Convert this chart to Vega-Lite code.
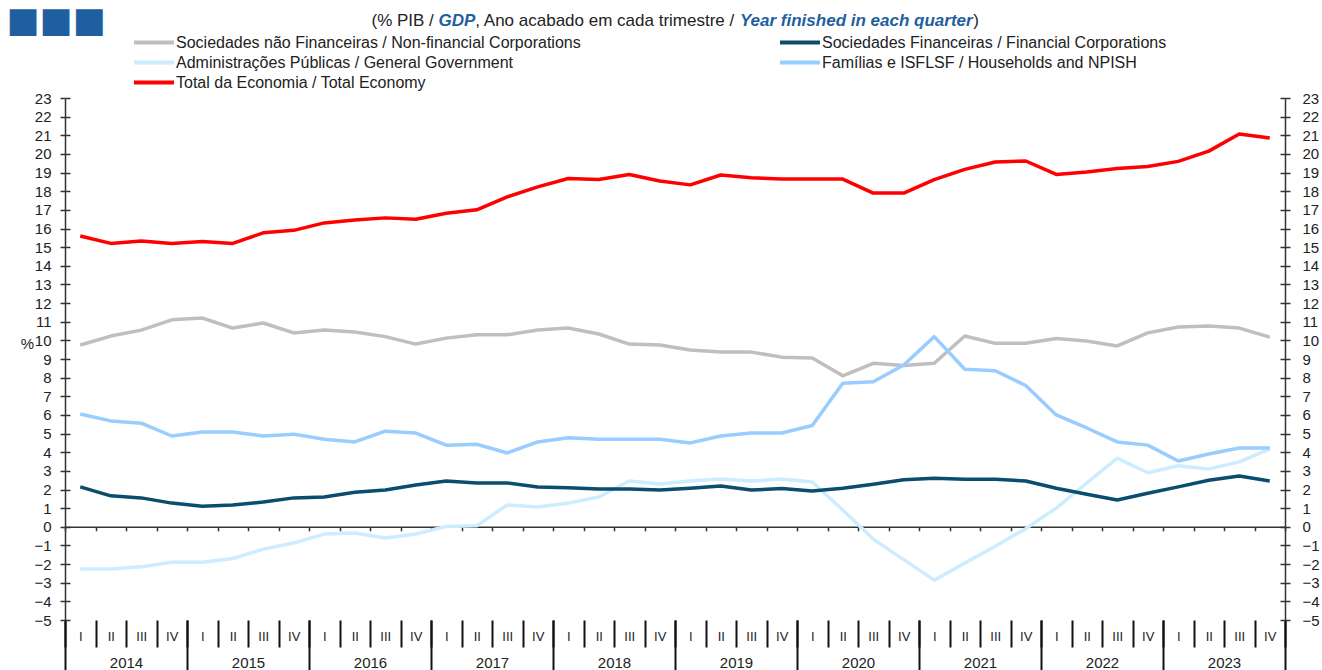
{
"$schema": "https://vega.github.io/schema/vega-lite/v6.json",
"autosize": {"type": "none"},
"padding": {"left": 65, "top": 98, "right": 37, "bottom": 50},
"width": 1220,
"height": 522,
"background": "white",
"config": {"view": {"stroke": null}, "font": "Liberation Sans"},
"data": {"values": [
{"series":"Sociedades não Financeiras / Non-financial Corporations","period":"2014 I","year":2014,"value":9.75},
{"series":"Sociedades não Financeiras / Non-financial Corporations","period":"2014 II","year":2014,"value":10.23},
{"series":"Sociedades não Financeiras / Non-financial Corporations","period":"2014 III","year":2014,"value":10.55},
{"series":"Sociedades não Financeiras / Non-financial Corporations","period":"2014 IV","year":2014,"value":11.1},
{"series":"Sociedades não Financeiras / Non-financial Corporations","period":"2015 I","year":2015,"value":11.2},
{"series":"Sociedades não Financeiras / Non-financial Corporations","period":"2015 II","year":2015,"value":10.66},
{"series":"Sociedades não Financeiras / Non-financial Corporations","period":"2015 III","year":2015,"value":10.93},
{"series":"Sociedades não Financeiras / Non-financial Corporations","period":"2015 IV","year":2015,"value":10.4},
{"series":"Sociedades não Financeiras / Non-financial Corporations","period":"2016 I","year":2016,"value":10.55},
{"series":"Sociedades não Financeiras / Non-financial Corporations","period":"2016 II","year":2016,"value":10.45},
{"series":"Sociedades não Financeiras / Non-financial Corporations","period":"2016 III","year":2016,"value":10.2},
{"series":"Sociedades não Financeiras / Non-financial Corporations","period":"2016 IV","year":2016,"value":9.8},
{"series":"Sociedades não Financeiras / Non-financial Corporations","period":"2017 I","year":2017,"value":10.12},
{"series":"Sociedades não Financeiras / Non-financial Corporations","period":"2017 II","year":2017,"value":10.3},
{"series":"Sociedades não Financeiras / Non-financial Corporations","period":"2017 III","year":2017,"value":10.3},
{"series":"Sociedades não Financeiras / Non-financial Corporations","period":"2017 IV","year":2017,"value":10.55},
{"series":"Sociedades não Financeiras / Non-financial Corporations","period":"2018 I","year":2018,"value":10.66},
{"series":"Sociedades não Financeiras / Non-financial Corporations","period":"2018 II","year":2018,"value":10.34},
{"series":"Sociedades não Financeiras / Non-financial Corporations","period":"2018 III","year":2018,"value":9.8},
{"series":"Sociedades não Financeiras / Non-financial Corporations","period":"2018 IV","year":2018,"value":9.75},
{"series":"Sociedades não Financeiras / Non-financial Corporations","period":"2019 I","year":2019,"value":9.48},
{"series":"Sociedades não Financeiras / Non-financial Corporations","period":"2019 II","year":2019,"value":9.37},
{"series":"Sociedades não Financeiras / Non-financial Corporations","period":"2019 III","year":2019,"value":9.37},
{"series":"Sociedades não Financeiras / Non-financial Corporations","period":"2019 IV","year":2019,"value":9.1},
{"series":"Sociedades não Financeiras / Non-financial Corporations","period":"2020 I","year":2020,"value":9.05},
{"series":"Sociedades não Financeiras / Non-financial Corporations","period":"2020 II","year":2020,"value":8.1},
{"series":"Sociedades não Financeiras / Non-financial Corporations","period":"2020 III","year":2020,"value":8.77},
{"series":"Sociedades não Financeiras / Non-financial Corporations","period":"2020 IV","year":2020,"value":8.65},
{"series":"Sociedades não Financeiras / Non-financial Corporations","period":"2021 I","year":2021,"value":8.77},
{"series":"Sociedades não Financeiras / Non-financial Corporations","period":"2021 II","year":2021,"value":10.23},
{"series":"Sociedades não Financeiras / Non-financial Corporations","period":"2021 III","year":2021,"value":9.84},
{"series":"Sociedades não Financeiras / Non-financial Corporations","period":"2021 IV","year":2021,"value":9.84},
{"series":"Sociedades não Financeiras / Non-financial Corporations","period":"2022 I","year":2022,"value":10.1},
{"series":"Sociedades não Financeiras / Non-financial Corporations","period":"2022 II","year":2022,"value":9.97},
{"series":"Sociedades não Financeiras / Non-financial Corporations","period":"2022 III","year":2022,"value":9.7},
{"series":"Sociedades não Financeiras / Non-financial Corporations","period":"2022 IV","year":2022,"value":10.4},
{"series":"Sociedades não Financeiras / Non-financial Corporations","period":"2023 I","year":2023,"value":10.72},
{"series":"Sociedades não Financeiras / Non-financial Corporations","period":"2023 II","year":2023,"value":10.77},
{"series":"Sociedades não Financeiras / Non-financial Corporations","period":"2023 III","year":2023,"value":10.66},
{"series":"Sociedades não Financeiras / Non-financial Corporations","period":"2023 IV","year":2023,"value":10.17},
{"series":"Administrações Públicas / General Government","period":"2014 I","year":2014,"value":-2.27},
{"series":"Administrações Públicas / General Government","period":"2014 II","year":2014,"value":-2.27},
{"series":"Administrações Públicas / General Government","period":"2014 III","year":2014,"value":-2.15},
{"series":"Administrações Públicas / General Government","period":"2014 IV","year":2014,"value":-1.9},
{"series":"Administrações Públicas / General Government","period":"2015 I","year":2015,"value":-1.9},
{"series":"Administrações Públicas / General Government","period":"2015 II","year":2015,"value":-1.7},
{"series":"Administrações Públicas / General Government","period":"2015 III","year":2015,"value":-1.2},
{"series":"Administrações Públicas / General Government","period":"2015 IV","year":2015,"value":-0.87},
{"series":"Administrações Públicas / General Government","period":"2016 I","year":2016,"value":-0.39},
{"series":"Administrações Públicas / General Government","period":"2016 II","year":2016,"value":-0.33},
{"series":"Administrações Públicas / General Government","period":"2016 III","year":2016,"value":-0.6},
{"series":"Administrações Públicas / General Government","period":"2016 IV","year":2016,"value":-0.39},
{"series":"Administrações Públicas / General Government","period":"2017 I","year":2017,"value":0.02},
{"series":"Administrações Públicas / General Government","period":"2017 II","year":2017,"value":0.05},
{"series":"Administrações Públicas / General Government","period":"2017 III","year":2017,"value":1.17},
{"series":"Administrações Públicas / General Government","period":"2017 IV","year":2017,"value":1.06},
{"series":"Administrações Públicas / General Government","period":"2018 I","year":2018,"value":1.27},
{"series":"Administrações Públicas / General Government","period":"2018 II","year":2018,"value":1.6},
{"series":"Administrações Públicas / General Government","period":"2018 III","year":2018,"value":2.46},
{"series":"Administrações Públicas / General Government","period":"2018 IV","year":2018,"value":2.3},
{"series":"Administrações Públicas / General Government","period":"2019 I","year":2019,"value":2.46},
{"series":"Administrações Públicas / General Government","period":"2019 II","year":2019,"value":2.56},
{"series":"Administrações Públicas / General Government","period":"2019 III","year":2019,"value":2.46},
{"series":"Administrações Públicas / General Government","period":"2019 IV","year":2019,"value":2.56},
{"series":"Administrações Públicas / General Government","period":"2020 I","year":2020,"value":2.4},
{"series":"Administrações Públicas / General Government","period":"2020 II","year":2020,"value":0.9},
{"series":"Administrações Públicas / General Government","period":"2020 III","year":2020,"value":-0.66},
{"series":"Administrações Públicas / General Government","period":"2020 IV","year":2020,"value":-1.76},
{"series":"Administrações Públicas / General Government","period":"2021 I","year":2021,"value":-2.86},
{"series":"Administrações Públicas / General Government","period":"2021 II","year":2021,"value":-1.95},
{"series":"Administrações Públicas / General Government","period":"2021 III","year":2021,"value":-1.04},
{"series":"Administrações Públicas / General Government","period":"2021 IV","year":2021,"value":-0.1},
{"series":"Administrações Públicas / General Government","period":"2022 I","year":2022,"value":1.0},
{"series":"Administrações Públicas / General Government","period":"2022 II","year":2022,"value":2.35},
{"series":"Administrações Públicas / General Government","period":"2022 III","year":2022,"value":3.68},
{"series":"Administrações Públicas / General Government","period":"2022 IV","year":2022,"value":2.9},
{"series":"Administrações Públicas / General Government","period":"2023 I","year":2023,"value":3.27},
{"series":"Administrações Públicas / General Government","period":"2023 II","year":2023,"value":3.1},
{"series":"Administrações Públicas / General Government","period":"2023 III","year":2023,"value":3.48},
{"series":"Administrações Públicas / General Government","period":"2023 IV","year":2023,"value":4.17},
{"series":"Sociedades Financeiras / Financial Corporations","period":"2014 I","year":2014,"value":2.14},
{"series":"Sociedades Financeiras / Financial Corporations","period":"2014 II","year":2014,"value":1.66},
{"series":"Sociedades Financeiras / Financial Corporations","period":"2014 III","year":2014,"value":1.55},
{"series":"Sociedades Financeiras / Financial Corporations","period":"2014 IV","year":2014,"value":1.27},
{"series":"Sociedades Financeiras / Financial Corporations","period":"2015 I","year":2015,"value":1.1},
{"series":"Sociedades Financeiras / Financial Corporations","period":"2015 II","year":2015,"value":1.17},
{"series":"Sociedades Financeiras / Financial Corporations","period":"2015 III","year":2015,"value":1.33},
{"series":"Sociedades Financeiras / Financial Corporations","period":"2015 IV","year":2015,"value":1.55},
{"series":"Sociedades Financeiras / Financial Corporations","period":"2016 I","year":2016,"value":1.6},
{"series":"Sociedades Financeiras / Financial Corporations","period":"2016 II","year":2016,"value":1.85},
{"series":"Sociedades Financeiras / Financial Corporations","period":"2016 III","year":2016,"value":1.97},
{"series":"Sociedades Financeiras / Financial Corporations","period":"2016 IV","year":2016,"value":2.24},
{"series":"Sociedades Financeiras / Financial Corporations","period":"2017 I","year":2017,"value":2.46},
{"series":"Sociedades Financeiras / Financial Corporations","period":"2017 II","year":2017,"value":2.35},
{"series":"Sociedades Financeiras / Financial Corporations","period":"2017 III","year":2017,"value":2.35},
{"series":"Sociedades Financeiras / Financial Corporations","period":"2017 IV","year":2017,"value":2.14},
{"series":"Sociedades Financeiras / Financial Corporations","period":"2018 I","year":2018,"value":2.09},
{"series":"Sociedades Financeiras / Financial Corporations","period":"2018 II","year":2018,"value":2.03},
{"series":"Sociedades Financeiras / Financial Corporations","period":"2018 III","year":2018,"value":2.03},
{"series":"Sociedades Financeiras / Financial Corporations","period":"2018 IV","year":2018,"value":1.97},
{"series":"Sociedades Financeiras / Financial Corporations","period":"2019 I","year":2019,"value":2.07},
{"series":"Sociedades Financeiras / Financial Corporations","period":"2019 II","year":2019,"value":2.19},
{"series":"Sociedades Financeiras / Financial Corporations","period":"2019 III","year":2019,"value":1.97},
{"series":"Sociedades Financeiras / Financial Corporations","period":"2019 IV","year":2019,"value":2.05},
{"series":"Sociedades Financeiras / Financial Corporations","period":"2020 I","year":2020,"value":1.92},
{"series":"Sociedades Financeiras / Financial Corporations","period":"2020 II","year":2020,"value":2.07},
{"series":"Sociedades Financeiras / Financial Corporations","period":"2020 III","year":2020,"value":2.28},
{"series":"Sociedades Financeiras / Financial Corporations","period":"2020 IV","year":2020,"value":2.52},
{"series":"Sociedades Financeiras / Financial Corporations","period":"2021 I","year":2021,"value":2.6},
{"series":"Sociedades Financeiras / Financial Corporations","period":"2021 II","year":2021,"value":2.55},
{"series":"Sociedades Financeiras / Financial Corporations","period":"2021 III","year":2021,"value":2.55},
{"series":"Sociedades Financeiras / Financial Corporations","period":"2021 IV","year":2021,"value":2.46},
{"series":"Sociedades Financeiras / Financial Corporations","period":"2022 I","year":2022,"value":2.07},
{"series":"Sociedades Financeiras / Financial Corporations","period":"2022 II","year":2022,"value":1.75},
{"series":"Sociedades Financeiras / Financial Corporations","period":"2022 III","year":2022,"value":1.44},
{"series":"Sociedades Financeiras / Financial Corporations","period":"2022 IV","year":2022,"value":1.8},
{"series":"Sociedades Financeiras / Financial Corporations","period":"2023 I","year":2023,"value":2.14},
{"series":"Sociedades Financeiras / Financial Corporations","period":"2023 II","year":2023,"value":2.5},
{"series":"Sociedades Financeiras / Financial Corporations","period":"2023 III","year":2023,"value":2.72},
{"series":"Sociedades Financeiras / Financial Corporations","period":"2023 IV","year":2023,"value":2.46},
{"series":"Famílias e ISFLSF / Households and NPISH","period":"2014 I","year":2014,"value":6.05},
{"series":"Famílias e ISFLSF / Households and NPISH","period":"2014 II","year":2014,"value":5.68},
{"series":"Famílias e ISFLSF / Households and NPISH","period":"2014 III","year":2014,"value":5.56},
{"series":"Famílias e ISFLSF / Households and NPISH","period":"2014 IV","year":2014,"value":4.87},
{"series":"Famílias e ISFLSF / Households and NPISH","period":"2015 I","year":2015,"value":5.08},
{"series":"Famílias e ISFLSF / Households and NPISH","period":"2015 II","year":2015,"value":5.08},
{"series":"Famílias e ISFLSF / Households and NPISH","period":"2015 III","year":2015,"value":4.87},
{"series":"Famílias e ISFLSF / Households and NPISH","period":"2015 IV","year":2015,"value":4.97},
{"series":"Famílias e ISFLSF / Households and NPISH","period":"2016 I","year":2016,"value":4.7},
{"series":"Famílias e ISFLSF / Households and NPISH","period":"2016 II","year":2016,"value":4.55},
{"series":"Famílias e ISFLSF / Households and NPISH","period":"2016 III","year":2016,"value":5.13},
{"series":"Famílias e ISFLSF / Households and NPISH","period":"2016 IV","year":2016,"value":5.03},
{"series":"Famílias e ISFLSF / Households and NPISH","period":"2017 I","year":2017,"value":4.38},
{"series":"Famílias e ISFLSF / Households and NPISH","period":"2017 II","year":2017,"value":4.43},
{"series":"Famílias e ISFLSF / Households and NPISH","period":"2017 III","year":2017,"value":3.96},
{"series":"Famílias e ISFLSF / Households and NPISH","period":"2017 IV","year":2017,"value":4.55},
{"series":"Famílias e ISFLSF / Households and NPISH","period":"2018 I","year":2018,"value":4.77},
{"series":"Famílias e ISFLSF / Households and NPISH","period":"2018 II","year":2018,"value":4.7},
{"series":"Famílias e ISFLSF / Households and NPISH","period":"2018 III","year":2018,"value":4.7},
{"series":"Famílias e ISFLSF / Households and NPISH","period":"2018 IV","year":2018,"value":4.7},
{"series":"Famílias e ISFLSF / Households and NPISH","period":"2019 I","year":2019,"value":4.5},
{"series":"Famílias e ISFLSF / Households and NPISH","period":"2019 II","year":2019,"value":4.87},
{"series":"Famílias e ISFLSF / Households and NPISH","period":"2019 III","year":2019,"value":5.03},
{"series":"Famílias e ISFLSF / Households and NPISH","period":"2019 IV","year":2019,"value":5.03},
{"series":"Famílias e ISFLSF / Households and NPISH","period":"2020 I","year":2020,"value":5.43},
{"series":"Famílias e ISFLSF / Households and NPISH","period":"2020 II","year":2020,"value":7.7},
{"series":"Famílias e ISFLSF / Households and NPISH","period":"2020 III","year":2020,"value":7.78},
{"series":"Famílias e ISFLSF / Households and NPISH","period":"2020 IV","year":2020,"value":8.68},
{"series":"Famílias e ISFLSF / Households and NPISH","period":"2021 I","year":2021,"value":10.2},
{"series":"Famílias e ISFLSF / Households and NPISH","period":"2021 II","year":2021,"value":8.45},
{"series":"Famílias e ISFLSF / Households and NPISH","period":"2021 III","year":2021,"value":8.37},
{"series":"Famílias e ISFLSF / Households and NPISH","period":"2021 IV","year":2021,"value":7.58},
{"series":"Famílias e ISFLSF / Households and NPISH","period":"2022 I","year":2022,"value":6.0},
{"series":"Famílias e ISFLSF / Households and NPISH","period":"2022 II","year":2022,"value":5.3},
{"series":"Famílias e ISFLSF / Households and NPISH","period":"2022 III","year":2022,"value":4.55},
{"series":"Famílias e ISFLSF / Households and NPISH","period":"2022 IV","year":2022,"value":4.38},
{"series":"Famílias e ISFLSF / Households and NPISH","period":"2023 I","year":2023,"value":3.53},
{"series":"Famílias e ISFLSF / Households and NPISH","period":"2023 II","year":2023,"value":3.9},
{"series":"Famílias e ISFLSF / Households and NPISH","period":"2023 III","year":2023,"value":4.23},
{"series":"Famílias e ISFLSF / Households and NPISH","period":"2023 IV","year":2023,"value":4.23},
{"series":"Total da Economia / Total Economy","period":"2014 I","year":2014,"value":15.6},
{"series":"Total da Economia / Total Economy","period":"2014 II","year":2014,"value":15.2},
{"series":"Total da Economia / Total Economy","period":"2014 III","year":2014,"value":15.33},
{"series":"Total da Economia / Total Economy","period":"2014 IV","year":2014,"value":15.2},
{"series":"Total da Economia / Total Economy","period":"2015 I","year":2015,"value":15.3},
{"series":"Total da Economia / Total Economy","period":"2015 II","year":2015,"value":15.2},
{"series":"Total da Economia / Total Economy","period":"2015 III","year":2015,"value":15.77},
{"series":"Total da Economia / Total Economy","period":"2015 IV","year":2015,"value":15.9},
{"series":"Total da Economia / Total Economy","period":"2016 I","year":2016,"value":16.3},
{"series":"Total da Economia / Total Economy","period":"2016 II","year":2016,"value":16.45},
{"series":"Total da Economia / Total Economy","period":"2016 III","year":2016,"value":16.57},
{"series":"Total da Economia / Total Economy","period":"2016 IV","year":2016,"value":16.5},
{"series":"Total da Economia / Total Economy","period":"2017 I","year":2017,"value":16.82},
{"series":"Total da Economia / Total Economy","period":"2017 II","year":2017,"value":17.0},
{"series":"Total da Economia / Total Economy","period":"2017 III","year":2017,"value":17.7},
{"series":"Total da Economia / Total Economy","period":"2017 IV","year":2017,"value":18.23},
{"series":"Total da Economia / Total Economy","period":"2018 I","year":2018,"value":18.68},
{"series":"Total da Economia / Total Economy","period":"2018 II","year":2018,"value":18.63},
{"series":"Total da Economia / Total Economy","period":"2018 III","year":2018,"value":18.9},
{"series":"Total da Economia / Total Economy","period":"2018 IV","year":2018,"value":18.55},
{"series":"Total da Economia / Total Economy","period":"2019 I","year":2019,"value":18.34},
{"series":"Total da Economia / Total Economy","period":"2019 II","year":2019,"value":18.87},
{"series":"Total da Economia / Total Economy","period":"2019 III","year":2019,"value":18.72},
{"series":"Total da Economia / Total Economy","period":"2019 IV","year":2019,"value":18.65},
{"series":"Total da Economia / Total Economy","period":"2020 I","year":2020,"value":18.65},
{"series":"Total da Economia / Total Economy","period":"2020 II","year":2020,"value":18.65},
{"series":"Total da Economia / Total Economy","period":"2020 III","year":2020,"value":17.9},
{"series":"Total da Economia / Total Economy","period":"2020 IV","year":2020,"value":17.9},
{"series":"Total da Economia / Total Economy","period":"2021 I","year":2021,"value":18.62},
{"series":"Total da Economia / Total Economy","period":"2021 II","year":2021,"value":19.17},
{"series":"Total da Economia / Total Economy","period":"2021 III","year":2021,"value":19.57},
{"series":"Total da Economia / Total Economy","period":"2021 IV","year":2021,"value":19.62},
{"series":"Total da Economia / Total Economy","period":"2022 I","year":2022,"value":18.9},
{"series":"Total da Economia / Total Economy","period":"2022 II","year":2022,"value":19.03},
{"series":"Total da Economia / Total Economy","period":"2022 III","year":2022,"value":19.22},
{"series":"Total da Economia / Total Economy","period":"2022 IV","year":2022,"value":19.33},
{"series":"Total da Economia / Total Economy","period":"2023 I","year":2023,"value":19.6},
{"series":"Total da Economia / Total Economy","period":"2023 II","year":2023,"value":20.15},
{"series":"Total da Economia / Total Economy","period":"2023 III","year":2023,"value":21.07},
{"series":"Total da Economia / Total Economy","period":"2023 IV","year":2023,"value":20.86}
]},
"resolve": {"scale": {"x": "independent", "y": "independent"}, "axis": {"x": "independent", "y": "independent"}},
"layer": [
{
"mark": {"type": "line", "strokeWidth": 3.5, "strokeJoin": "round"},
"encoding": {
"x": {"field": "period", "type": "ordinal", "sort": null, "bandPosition": 0.5,
"scale": {"type": "band", "paddingInner": 0, "paddingOuter": 0},
"axis": {"orient": "bottom", "offset": -93.2, "domain": true, "domainColor": "#333333", "domainWidth": 1.5,
"ticks": true, "tickBand": "extent", "tickSize": 4, "tickColor": "#333333", "tickWidth": 1.5, "labels": false, "grid": false,
"title": "(% PIB / ", "titleX": 306, "titleY": -506.8, "titleAlign": "left", "titleBaseline": "middle", "titleAngle": 0,
"titleFont": "Liberation Sans", "titleFontSize": 17, "titleFontWeight": "normal", "titleColor": "#222222", "titleLimit": 1000}},
"y": {"field": "value", "type": "quantitative",
"scale": {"domain": [-5, 23], "nice": false, "zero": false},
"axis": {"orient": "left", "values": [-5,-4,-3,-2,-1,0,1,2,3,4,5,6,7,8,9,10,11,12,13,14,15,16,17,18,19,20,21,22,23],
"domain": true, "domainColor": "#333333", "domainWidth": 1.5, "ticks": true, "tickSize": 5, "tickColor": "#333333", "tickWidth": 1.5,
"grid": false, "labelFont": "Liberation Sans", "labelFontSize": 15, "labelColor": "#222222", "labelPadding": 9,
"labelOverlap": false, "labelFlush": false, "labelBound": false,
"title": "%", "titleAngle": 0, "titleX": -38, "titleY": 245, "titleAlign": "center", "titleBaseline": "middle",
"titleFont": "Liberation Sans", "titleFontSize": 15, "titleFontWeight": "normal", "titleColor": "#222222"}},
"color": {"field": "series", "type": "nominal",
"scale": {"domain": ["Sociedades não Financeiras / Non-financial Corporations", "Sociedades Financeiras / Financial Corporations", "Administrações Públicas / General Government", "Famílias e ISFLSF / Households and NPISH", "Total da Economia / Total Economy"],
"range": ["#BFBFBF", "#0B4D6E", "#CCECFF", "#99CCFF", "#FF0000"]},
"legend": {"orient": "none", "legendX": 77, "legendY": -67.5, "columns": 2, "direction": "horizontal", "title": null,
"symbolType": "M-2,0H2", "symbolSize": 400, "symbolStrokeWidth": 4, "labelFont": "Liberation Sans", "labelFontSize": 16,
"labelColor": "#222222", "labelLimit": 0, "labelOffset": 10, "columnPadding": 191, "rowPadding": -5.5, "padding": 0}}
}
},
{
"mark": {"type": "point", "opacity": 0},
"encoding": {
"x": {"field": "period", "type": "ordinal", "sort": null,
"scale": {"type": "band", "paddingInner": 0, "paddingOuter": 0},
"axis": {"orient": "bottom", "offset": 0, "domain": false, "ticks": true, "tickBand": "extent", "tickSize": 27,
"tickColor": "#111111", "tickWidth": 2, "grid": false, "labelExpr": "split(datum.label, ' ')[1]", "labelAngle": 0,
"labelFont": "Liberation Sans", "labelFontSize": 13, "labelColor": "#222222", "labelPadding": -11, "labelBaseline": "middle",
"labelOverlap": false, "labelFlush": false,
"title": "GDP", "titleX": 373, "titleY": -600, "titleAlign": "left", "titleBaseline": "middle", "titleAngle": 0,
"titleFont": "Liberation Sans", "titleFontSize": 17, "titleFontWeight": "bold", "titleFontStyle": "italic", "titleColor": "#1F5FA0", "titleLimit": 1000}},
"y": {"field": "value", "type": "quantitative",
"scale": {"domain": [-5, 23], "nice": false, "zero": false},
"axis": {"orient": "left", "values": [-5,-4,-3,-2,-1,0,1,2,3,4,5,6,7,8,9,10,11,12,13,14,15,16,17,18,19,20,21,22,23],
"domain": false, "ticks": true, "tickSize": -5, "tickColor": "#333333", "tickWidth": 1.5, "labels": false, "grid": false,
"title": "Year finished in each quarter", "titleX": 674.4, "titleY": -78, "titleAlign": "left", "titleBaseline": "middle", "titleAngle": 0,
"titleFont": "Liberation Sans", "titleFontSize": 17, "titleFontWeight": "bold", "titleFontStyle": "italic", "titleColor": "#1F5FA0", "titleLimit": 1000}}
}
},
{
"mark": {"type": "point", "opacity": 0},
"encoding": {
"x": {"field": "year", "type": "ordinal", "sort": null,
"scale": {"type": "band", "paddingInner": 0, "paddingOuter": 0},
"axis": {"orient": "bottom", "offset": 0, "domain": false, "ticks": true, "tickBand": "extent", "tickSize": 50,
"tickColor": "#111111", "tickWidth": 2, "grid": false, "labelAngle": 0,
"labelFont": "Liberation Sans", "labelFontSize": 15, "labelColor": "#222222", "labelPadding": -8, "labelBaseline": "middle",
"labelOverlap": false, "labelFlush": false,
"title": ", Ano acabado em cada trimestre / ", "titleX": 409.8, "titleY": -600, "titleAlign": "left", "titleBaseline": "middle", "titleAngle": 0,
"titleFont": "Liberation Sans", "titleFontSize": 17, "titleFontWeight": "normal", "titleColor": "#222222", "titleLimit": 1000}},
"y": {"field": "value", "type": "quantitative",
"scale": {"domain": [-5, 23], "nice": false, "zero": false},
"axis": {"orient": "right", "values": [-5,-4,-3,-2,-1,0,1,2,3,4,5,6,7,8,9,10,11,12,13,14,15,16,17,18,19,20,21,22,23],
"domain": true, "domainColor": "#333333", "domainWidth": 1.5, "ticks": true, "tickSize": 5, "tickColor": "#333333", "tickWidth": 1.5,
"grid": false, "labelFont": "Liberation Sans", "labelFontSize": 15, "labelColor": "#222222", "labelPadding": 12,
"labelOverlap": false, "labelFlush": false, "labelBound": false,
"title": ")", "titleX": -312.2, "titleY": -78, "titleAlign": "left", "titleBaseline": "middle", "titleAngle": 0,
"titleFont": "Liberation Sans", "titleFontSize": 17, "titleFontWeight": "normal", "titleColor": "#222222", "titleLimit": 1000}}
}
},
{
"mark": {"type": "point", "opacity": 0},
"encoding": {
"x": {"field": "period", "type": "ordinal", "sort": null,
"scale": {"type": "band", "paddingInner": 0, "paddingOuter": 0}, "axis": null},
"y": {"field": "value", "type": "quantitative",
"scale": {"domain": [-5, 23], "nice": false, "zero": false},
"axis": {"orient": "right", "values": [-5,-4,-3,-2,-1,0,1,2,3,4,5,6,7,8,9,10,11,12,13,14,15,16,17,18,19,20,21,22,23],
"domain": false, "ticks": true, "tickSize": -5, "tickColor": "#333333", "tickWidth": 1.5, "labels": false, "grid": false,
"title": "■■■", "titleX": -1279, "titleY": -78, "titleAlign": "left", "titleBaseline": "middle", "titleAngle": 0,
"titleFont": "DejaVu Sans", "titleFontSize": 35, "titleFontWeight": "normal", "titleColor": "#1F5FA0", "titleLimit": 1000}}
}
}
]
}
